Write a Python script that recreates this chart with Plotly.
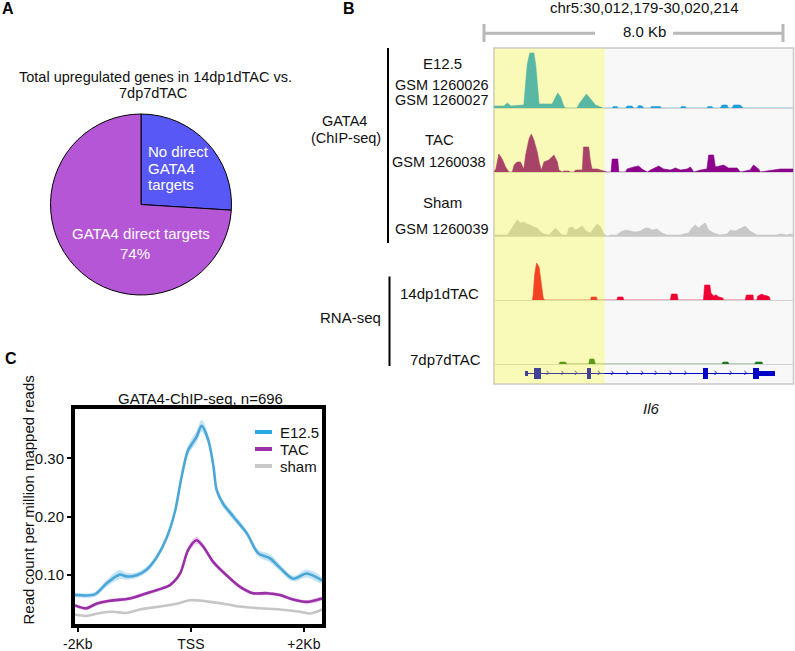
import plotly.graph_objects as go

W, H = 795, 651
FONT = "Liberation Sans, Arial, sans-serif"


def px(x):
    return x / W


def py(y):
    return 1 - y / H


# ---------------- Panel A data ----------------
pie_labels = ["No direct GATA4 targets", "GATA4 direct targets"]
pie_values = [26, 74]
pie_colors = ["#5858f6", "#b456d6"]

# ---------------- Panel B data (kb from window start, coverage height) ----------------
window_kb = 8.035
e125_x = [0, 0.27, 0.36, 0.45, 0.80, 0.85, 0.89, 0.96, 1.07, 1.12, 1.16, 1.21, 1.56, 1.62, 1.71, 1.79,
          1.87, 1.92, 2.23, 2.28, 2.37, 2.48, 2.59, 2.72, 2.86, 2.93,
          3.17, 3.20, 3.30, 3.33, 3.53, 3.57, 3.70, 3.75, 3.84, 3.88, 3.97, 4.02, 4.20, 4.22, 4.46, 4.49,
          5.0, 5.03, 5.13, 5.16, 5.71, 5.74, 5.85, 5.87, 6.07, 6.12, 6.25, 6.29, 6.38, 6.43, 6.61, 6.68, 8.03]
e125_y = [2, 2, 5, 2, 3, 25, 43, 55, 55, 43, 23, 4, 4, 9, 15, 11, 2, 0, 0, 4, 9, 14, 9, 3, 1, 0,
          0, 1.5, 1.5, 0, 0, 2, 2, 0, 0, 2.5, 2, 0, 0, 1.5, 1.5, 0, 0, 1.5, 1.5, 0, 0, 1.5, 1.5, 0,
          0, 3, 3, 0, 0, 3, 3, 0, 0]

tac_x = [0, 0.05, 0.13, 0.22, 0.31, 0.40, 0.49, 0.54, 0.62, 0.71, 0.80, 0.85, 0.94, 1.0, 1.07,
         1.16, 1.21, 1.27, 1.34, 1.47, 1.61, 1.70, 1.74, 1.83, 1.87, 2.01, 2.05, 2.14, 2.19, 2.37,
         2.40, 2.43, 2.54, 2.59, 2.63, 2.77, 2.86, 2.95, 3.03, 3.14, 3.17, 3.32, 3.35, 3.53, 3.57,
         3.75, 3.88, 3.97, 4.11, 4.20, 4.42, 4.55, 4.73, 4.87, 5.0, 5.18, 5.27, 5.36, 5.54, 5.71,
         5.76, 5.89, 5.94, 6.16, 6.29, 6.52, 6.61, 6.87, 6.96, 7.10, 7.14, 7.68, 7.95, 8.03]
tac_y = [0, 3, 18, 13, 5, 0, 0, 7, 10, 10, 3, 17, 33, 38, 32, 20, 10, 2, 10, 12, 17, 10, 2, 0, 1,
         1, 0, 0, 2, 2, 25, 25, 25, 10, 3, 3, 2, 1, 0, 0, 13, 13, 0, 0, 3, 5, 6, 3, 0, 2, 6, 3, 2,
         4, 2, 3, 5, 0, 2, 3, 17, 17, 5, 7, 4, 4, 0, 2, 7, 3, 0, 3, 3, 3]

sham_x = [0, 0.36, 0.45, 0.54, 0.62, 0.71, 0.80, 0.89, 0.98, 1.07, 1.16, 1.25, 1.34, 1.47, 1.56,
          1.65, 1.74, 1.83, 1.96, 2.01, 2.10, 2.19, 2.28, 2.37, 2.46, 2.59, 2.68, 2.77, 2.86, 2.95,
          3.04, 3.12, 3.30, 3.39, 3.53, 3.66, 3.79, 3.93, 4.06, 4.15, 4.24, 4.37, 4.51, 4.64, 5.0,
          5.09, 5.22, 5.31, 5.40, 5.49, 5.58, 5.67, 5.76, 5.89, 6.07, 6.25, 6.34, 6.47, 6.61, 6.74,
          6.87, 7.05, 7.59, 7.68, 7.86, 7.95, 8.03]
sham_y = [1, 1, 6, 11, 16, 13, 14, 12, 11, 9, 8, 4, 2, 1, 5, 8, 4, 1, 1, 8, 9, 6, 8, 10, 5, 3, 8,
          12, 9, 2, 0, 1, 1, 4, 6, 5, 4, 5, 8, 8, 6, 7, 3, 1, 1, 2, 3, 8, 11, 8, 11, 13, 6, 3, 1,
          2, 6, 5, 8, 10, 5, 1, 1, 2, 1, 2, 1]

rna14_x = [1.03, 1.05, 1.09, 1.14, 1.21, 1.27, 1.32, 1.36, 2.59, 2.61, 2.75, 2.77, 3.30, 3.32, 3.46,
           3.48, 4.73, 4.76, 4.91, 4.94, 5.62, 5.65, 5.79, 5.82, 5.89, 5.96, 6.03, 6.14, 6.16, 6.74,
           6.77, 6.95, 6.96, 7.05, 7.08, 7.19, 7.23, 7.34, 7.39, 7.41]
rna14_y = [0, 5, 25, 37, 33, 15, 2, 0, 0, 3, 3, 0, 0, 3, 3, 0, 0, 6, 6, 0, 0, 15, 15, 7, 4, 5, 3,
           2, 0, 0, 5, 5, 0, 0, 4, 6, 5, 4, 3, 0]

rna7_x = [1.74, 1.77, 1.92, 1.95, 2.54, 2.57, 2.68, 2.72, 6.12, 6.14, 6.28, 6.30, 6.99, 7.02, 7.19, 7.21]
rna7_y = [0, 2, 2, 0, 0, 5, 5, 0, 0, 2, 2, 0, 0, 2, 2, 0]

# Il6 gene model
gene_span = [0.83, 7.54]
exon_start = [0.83, 1.07, 2.50, 5.60, 6.95, 7.12]
exon_end = [0.90, 1.25, 2.61, 5.73, 7.12, 7.54]
exon_thick = [0.7, 1.3, 1.3, 1.3, 1.3, 0.7]
chevron_pos = [1.43, 1.83, 2.19, 2.81, 3.17, 3.57, 3.97, 4.33, 4.73, 5.13, 5.94, 6.34, 6.74]
highlight_kb = [0, 2.97]

track_names = [["E12.5", "GSM 1260026", "GSM 1260027"], ["TAC", "GSM 1260038"],
               ["Sham", "GSM 1260039"], ["14dp1dTAC"], ["7dp7dTAC"]]

# ---------------- Panel C data ----------------
e_x = [-2.05, -1.70, -1.49, -1.26, -1.14, -0.96, -0.78, -0.61, -0.43, -0.28, -0.165, -0.05, 0.10,
       0.19, 0.31, 0.40, 0.455, 0.57, 0.75, 0.99, 1.19, 1.40, 1.575, 1.81, 2.05, 2.32]
e_y = [0.065, 0.066, 0.085, 0.100, 0.097, 0.099, 0.109, 0.129, 0.163, 0.209, 0.268, 0.314, 0.337,
       0.356, 0.331, 0.286, 0.246, 0.222, 0.200, 0.171, 0.137, 0.128, 0.112, 0.093, 0.102, 0.090]
e_sem = [0.004, 0.004, 0.006, 0.008, 0.006, 0.005, 0.005, 0.005, 0.005, 0.006, 0.007, 0.008, 0.010,
         0.010, 0.009, 0.007, 0.006, 0.006, 0.006, 0.005, 0.006, 0.007, 0.006, 0.005, 0.007, 0.005]
t_x = [-2.05, -1.85, -1.67, -1.43, -1.08, -0.78, -0.55, -0.37, -0.19, -0.05, 0.10, 0.22, 0.395,
       0.63, 0.87, 1.10, 1.34, 1.575, 1.81, 2.05, 2.32]
t_y = [0.047, 0.042, 0.050, 0.055, 0.059, 0.068, 0.075, 0.082, 0.102, 0.142, 0.159, 0.148, 0.122,
       0.099, 0.079, 0.068, 0.068, 0.065, 0.057, 0.053, 0.059]
t_sem = [0.003, 0.003, 0.003, 0.003, 0.003, 0.003, 0.003, 0.003, 0.004, 0.005, 0.006, 0.005, 0.004,
         0.003, 0.003, 0.003, 0.003, 0.003, 0.003, 0.003, 0.003]
s_x = [-2.05, -1.85, -1.61, -1.375, -1.14, -0.90, -0.55, -0.25, -0.02, 0.28, 0.63, 0.87, 1.22,
       1.575, 1.93, 2.11, 2.32]
s_y = [0.0315, 0.029, 0.034, 0.036, 0.034, 0.040, 0.045, 0.050, 0.056, 0.054, 0.049, 0.045, 0.042,
       0.040, 0.036, 0.033, 0.040]
legend_names = ["E12.5", "TAC", "sham"]
x_tickvals = [-2, 0, 2]
x_ticktext = ["-2Kb", "TSS", "+2Kb"]
y_tickvals = [0.10, 0.20, 0.30]

fig = go.Figure()

# ---- Panel A: pie ----
fig.add_trace(go.Pie(
    values=pie_values, labels=pie_labels, sort=False, direction="clockwise", rotation=0,
    marker=dict(colors=pie_colors, line=dict(color="black", width=1)),
    textinfo="none", hoverinfo="label+percent", showlegend=False,
    domain=dict(x=[px(50.5), px(231.5)], y=[py(295), py(114)])))

# ---- Panel B: tracks ----
track_colors = ["#1ea0dc", "#8c008c", "#c8c8c8", "#f00032", "#1e781e"]
track_data = [(e125_x, e125_y), (tac_x, tac_y), (sham_x, sham_y), (rna14_x, rna14_y), (rna7_x, rna7_y)]
baselines = [108, 172, 236, 300, 364]
for i, ((tx, ty), col) in enumerate(zip(track_data, track_colors)):
    yname = "y" if i == 0 else f"y{i + 1}"
    fig.add_trace(go.Scatter(x=tx, y=ty, mode="lines", fill="tozeroy", fillcolor=col,
                             line=dict(color=col, width=0.6), xaxis="x", yaxis=yname,
                             showlegend=False, hoverinfo="skip"))

gene_color = "#0000c8"
fig.add_trace(go.Scatter(x=gene_span, y=[0, 0], mode="lines", line=dict(color=gene_color, width=1),
                         xaxis="x", yaxis="y6", showlegend=False, hoverinfo="skip"))
fig.add_trace(go.Bar(y=[0] * len(exon_start), x=[e - s for s, e in zip(exon_start, exon_end)],
                     base=exon_start, width=exon_thick, orientation="h",
                     marker=dict(color=gene_color, line=dict(width=0)),
                     xaxis="x", yaxis="y6", showlegend=False, hoverinfo="skip"))
fig.add_trace(go.Scatter(x=chevron_pos, y=[0] * len(chevron_pos), mode="text",
                         text=["\u203a"] * len(chevron_pos),
                         textfont=dict(color=gene_color, size=10, family=FONT),
                         xaxis="x", yaxis="y6", showlegend=False, hoverinfo="skip"))

# ---- Panel C ----
def band(x, y, s):
    up = [a + b for a, b in zip(y, s)]
    lo = [a - b for a, b in zip(y, s)]
    return x + x[::-1], up + lo[::-1]

bx, by = band(e_x, e_y, e_sem)
fig.add_trace(go.Scatter(x=bx, y=by, fill="toself", fillcolor="rgba(125,195,235,0.45)",
                         line=dict(width=0, shape="spline"), mode="lines",
                         xaxis="x2", yaxis="y7", showlegend=False, hoverinfo="skip"))
bx, by = band(t_x, t_y, t_sem)
fig.add_trace(go.Scatter(x=bx, y=by, fill="toself", fillcolor="rgba(205,120,215,0.4)",
                         line=dict(width=0, shape="spline"), mode="lines",
                         xaxis="x2", yaxis="y7", showlegend=False, hoverinfo="skip"))
line_cols = ["#4ba7d7", "#9a2ea6", "#c6c6c6"]
for (lx, ly), col, nm in zip([(s_x, s_y), (t_x, t_y), (e_x, e_y)], line_cols[::-1], legend_names[::-1]):
    fig.add_trace(go.Scatter(x=lx, y=ly, mode="lines", name=nm,
                             line=dict(color=col, width=2.6, shape="spline", smoothing=0.8),
                             xaxis="x2", yaxis="y7", showlegend=False))

# ---- Layout: axes ----
box = [494, 48, 793.5, 384]
track_axis = dict(visible=False, showgrid=False, zeroline=False, fixedrange=True, automargin=False)
layout = dict(
    width=W, height=H, autosize=False,
    margin=dict(l=0, r=0, t=0, b=0, pad=0, autoexpand=False),
    paper_bgcolor="white", plot_bgcolor="rgba(0,0,0,0)",
    font=dict(family=FONT, size=15, color="#111"),
    showlegend=False, bargap=0,
    xaxis=dict(track_axis, domain=[px(box[0]), px(box[2])], range=[0, window_kb], anchor="y"),
)
for i, b in enumerate(baselines):
    key = "yaxis" if i == 0 else f"yaxis{i + 1}"
    layout[key] = dict(track_axis, domain=[py(b), py(b - 60)], range=[0, 60], anchor="x")
layout["yaxis6"] = dict(track_axis, domain=[py(382), py(365)], range=[-1, 1], anchor="x")
layout["xaxis2"] = dict(domain=[px(75), px(322)], anchor="y7", range=[-2.05, 2.32],
                        tickvals=x_tickvals, ticktext=x_ticktext, ticks="outside", ticklen=4,
                        tickwidth=2, tickcolor="black", showline=True, linewidth=4,
                        linecolor="black", mirror=True, showgrid=False, zeroline=False,
                        automargin=False, tickfont=dict(size=14, color="#111"))
layout["yaxis7"] = dict(domain=[py(624), py(409)], anchor="x2", range=[0.015, 0.385],
                        tickvals=y_tickvals, tickformat=".2f", ticks="outside", ticklen=4,
                        tickwidth=2, tickcolor="black", showline=True, linewidth=4,
                        linecolor="black", mirror=True, showgrid=False, zeroline=False,
                        automargin=False, tickfont=dict(size=15, color="#111"))

# ---- Shapes ----
shapes = []
shapes.append(dict(type="rect", xref="paper", yref="paper", x0=px(box[0]), x1=px(box[2]),
                   y0=py(box[3]), y1=py(box[1]), fillcolor="#f8f8f8",
                   line=dict(color="#c8c8c8", width=1.5), layer="below"))
for b in baselines:
    shapes.append(dict(type="line", xref="paper", yref="paper", x0=px(box[0]), x1=px(box[2]),
                       y0=py(b + 0.5), y1=py(b + 0.5), line=dict(color="#d4d4d4", width=1),
                       layer="below"))
# highlighted region (translucent yellow over tracks)
shapes.append(dict(type="rect", xref="x", yref="paper", x0=highlight_kb[0], x1=highlight_kb[1],
                   y0=py(box[3] - 0.5), y1=py(box[1] + 0.5), fillcolor="rgba(255,255,0,0.26)",
                   line=dict(width=0), layer="above"))
# scale bar
bar_col = "#b8b8b8"
for x0, x1 in [(484, 595), (673, 783)]:
    shapes.append(dict(type="line", xref="paper", yref="paper", x0=px(x0), x1=px(x1),
                       y0=py(33.3), y1=py(33.3), line=dict(color=bar_col, width=3)))
for xx in [484, 783]:
    shapes.append(dict(type="line", xref="paper", yref="paper", x0=px(xx), x1=px(xx),
                       y0=py(24), y1=py(42), line=dict(color=bar_col, width=3)))
# group brackets
shapes.append(dict(type="line", xref="paper", yref="paper", x0=px(388), x1=px(388),
                   y0=py(48), y1=py(243), line=dict(color="black", width=2)))
shapes.append(dict(type="line", xref="paper", yref="paper", x0=px(389.5), x1=px(389.5),
                   y0=py(276.5), y1=py(366), line=dict(color="black", width=2)))
# panel C legend swatches
for col, yy in zip(["#29aae1", "#9b30a8", "#c8c8c8"], [432, 449, 466]):
    shapes.append(dict(type="line", xref="paper", yref="paper", x0=px(255), x1=px(272),
                       y0=py(yy), y1=py(yy), line=dict(color=col, width=4)))
layout["shapes"] = shapes

# ---- Annotations ----
anns = []


def ann(text, x, y, size=15, color="#111", xanchor="center", bold=False, **kw):
    if bold:
        text = f"<b>{text}</b>"
    anns.append(dict(text=text, x=px(x), y=py(y), xref="paper", yref="paper", showarrow=False,
                     xanchor=xanchor, yanchor="middle", font=dict(size=size, color=color, family=FONT),
                     borderpad=0, **kw))


ann("A", 8, 8.5, size=16, color="black", bold=True)
ann("B", 349, 8.5, size=16, color="black", bold=True)
ann("C", 11, 358, size=16, color="black", bold=True)

ann("Total upregulated genes in 14dp1dTAC vs.", 155, 77, size=14.5)
ann("7dp7dTAC", 153, 93, size=14.5)
ann("No direct", 147, 152, color="white", xanchor="left")
ann("GATA4", 147, 168.5, color="white", xanchor="left")
ann("targets", 147, 184.5, color="white", xanchor="left")
ann("GATA4 direct targets", 141, 233.5, color="white")
ann("74%", 135, 254, color="white")

ann("chr5:30,012,179-30,020,214", 644, 7.5)
ann("8.0 Kb", 644, 31)
label_rows = [[63.3, 84.5, 100], [139, 162.3], [202.3, 229], [293.3], [359.3]]
label_x = [442, 439, 442, 439, 445]
label_size = [[15, 14.5, 14.5], [15, 14.5], [15, 14.5], [15], [15]]
for names, ys, lx, szs in zip(track_names, label_rows, label_x, label_size):
    for nm, yy, sz in zip(names, ys, szs):
        ann(nm, lx, yy, size=sz)
ann("GATA4", 344, 121, size=14.5)
ann("(ChIP-seq)", 346, 137.5, size=14.5)
ann("RNA-seq", 350, 317)
ann("<i>Il6</i>", 651, 408.3)

ann("GATA4-ChIP-seq, n=696", 200.5, 398.5)
ann("Read count per million mapped reads", 27.5, 500, textangle=-90)
for nm, yy in zip(legend_names, [432, 449, 466]):
    ann(nm, 279, yy, xanchor="left")
layout["annotations"] = anns

fig.update_layout(layout)
fig.write_html("out.html", config={"displayModeBar": False},
               post_script="document.body.style.margin='0px';")
